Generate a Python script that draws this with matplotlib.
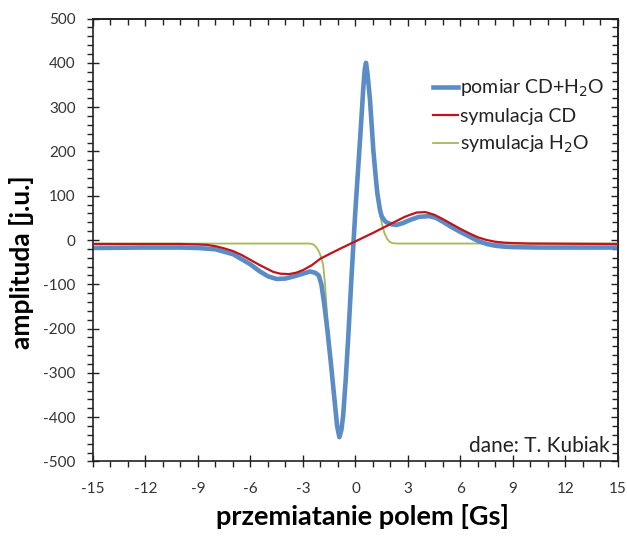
import matplotlib
matplotlib.use("Agg")
import matplotlib.pyplot as plt
from matplotlib.ticker import MultipleLocator, NullFormatter

plt.rcParams['font.family'] = ['Lato', 'DejaVu Sans']
plt.rcParams['axes.unicode_minus'] = False

# --- data ---
x_meas = [-15, -12, -10, -9, -8, -7, -6, -5.5, -5, -4.5, -4, -3.5, -3, -2.6, -2.3,
          -2.1, -1.95, -1.8, -1.6, -1.4, -1.2, -1.05, -0.92, -0.8, -0.7, -0.55,
          -0.4, -0.25, -0.12, 0.0, 0.15, 0.3, 0.45, 0.53, 0.6, 0.68, 0.83, 1.02,
          1.15, 1.25, 1.4, 1.5, 1.7, 1.87, 2.1, 2.35, 2.7, 3.1, 3.6, 4.2, 4.6,
          5.0, 5.5, 6.0, 6.5, 7.0, 7.5, 8.0, 8.5, 9, 10.5, 12, 15]
y_meas = [-18, -17, -17, -18, -21, -32, -55, -70, -82, -88, -87, -82, -76, -71, -74,
          -80, -100, -140, -205, -280, -360, -420, -445, -428, -395, -310,
          -210, -100, -10, 70, 160, 250, 345, 385, 400, 378, 316, 203,
          145, 105, 68, 53, 42, 38, 35, 34, 38, 45, 52, 54, 50,
          41, 29, 18, 8, -2, -9, -13, -15, -16, -17, -17, -17]

x_cd = [-15, -10, -9, -8.5, -8, -7.5, -7, -6.5, -6, -5.5, -5, -4.7, -4.3, -3.8,
        -3.4, -3, -2.5, -2, -1, 0, 1, 2, 2.8, 3.2, 3.5, 4, 4.5, 5, 5.5, 6, 6.5,
        7, 7.5, 8, 8.5, 9, 10, 15]
y_cd = [-9, -9, -10, -11, -14, -19, -25, -34, -45, -56, -66, -72, -76, -77,
        -74, -68, -57, -42, -22, -3, 16, 36, 52, 58, 62, 63, 57, 47, 36, 25, 15,
        6, 0, -4, -6, -7, -8, -9]

x_h2o = [-15, -2.6, -2.4, -2.25, -2.1, -2.0, -1.85, -1.74, -1.6, -1.4, -1.2, -1.05,
         -0.92, -0.8, -0.7, -0.55, -0.4, -0.25, -0.12, 0.0, 0.15, 0.3, 0.45, 0.6,
         0.7, 0.83, 1.02, 1.15, 1.25, 1.5, 1.65, 1.8, 1.95, 2.1, 2.4, 15]
y_h2o = [-8, -8, -10, -16, -25, -35, -55, -100, -180, -270, -350, -405,
         -432, -415, -385, -300, -205, -100, -10, 70, 155, 245, 335, 385,
         360, 300, 190, 130, 95, 38, 16, 3, -4, -7, -8, -8]

labels = ['pomiar CD+H$_2$O', 'symulacja CD', 'symulacja H$_2$O']
colors = ['#5B8CC6', '#C0141C', '#A5B85A']

fig = plt.figure(figsize=(6.27, 5.38), dpi=100)
ax = fig.add_axes([0.1483, 0.1422, 0.8373, 0.8234])

l1, = ax.plot(x_meas, y_meas, color=colors[0], lw=3.3, zorder=2, solid_joinstyle='round')
l2, = ax.plot(x_cd, y_cd, color=colors[1], lw=1.6, zorder=3)
l3, = ax.plot(x_h2o, y_h2o, color=colors[2], lw=1.3, zorder=1)

ax.set_xlim(-15, 15)
ax.set_ylim(-500, 500)
ax.xaxis.set_major_locator(MultipleLocator(3))
ax.xaxis.set_minor_locator(MultipleLocator(1))
ax.yaxis.set_major_locator(MultipleLocator(100))
ax.yaxis.set_minor_locator(MultipleLocator(20))

tc = '#222222'
ax.tick_params(which='both', color=tc, width=1)
ax.tick_params(which='major', direction='inout', length=9, labelsize=11,
               labelcolor='#333333')
ax.tick_params(which='minor', direction='out', length=4)
ax.tick_params(axis='x', which='major', pad=10)
ax.tick_params(axis='y', which='major', pad=8)

# mirrored ticks pointing inward on top and right
top = ax.secondary_xaxis('top')
top.xaxis.set_major_locator(MultipleLocator(3))
top.xaxis.set_minor_locator(MultipleLocator(1))
top.xaxis.set_major_formatter(NullFormatter())
top.tick_params(which='major', direction='in', length=5, color=tc, width=1)
top.tick_params(which='minor', direction='in', length=4, color=tc, width=1)
right = ax.secondary_yaxis('right')
right.yaxis.set_major_locator(MultipleLocator(100))
right.yaxis.set_minor_locator(MultipleLocator(20))
right.yaxis.set_major_formatter(NullFormatter())
right.tick_params(which='major', direction='in', length=5, color=tc, width=1)
right.tick_params(which='minor', direction='in', length=4, color=tc, width=1)

for s in ax.spines.values():
    s.set_color(tc)
    s.set_linewidth(1.2)
top.spines['top'].set_color(tc)
top.spines['top'].set_linewidth(1.2)
right.spines['right'].set_color(tc)
right.spines['right'].set_linewidth(1.2)

ax.set_xlabel('przemiatanie polem [Gs]', fontsize=19.5, fontweight='bold', labelpad=5)
ax.xaxis.set_label_coords(0.514, -0.095)
ax.set_ylabel('amplituda [j.u.]', fontsize=19, fontweight='bold', labelpad=4)
ax.yaxis.set_label_coords(-0.112, 0.45)

leg = ax.legend([l1, l2, l3], labels, loc='upper right', bbox_to_anchor=(1.0, 0.897),
                frameon=False, fontsize=14, handlelength=1.3, handletextpad=0.1,
                labelspacing=0.45, borderaxespad=0.3)
for t in leg.get_texts():
    t.set_color('#222222')

ax.text(0.985, 0.012, 'dane: T. Kubiak', transform=ax.transAxes, ha='right',
        va='bottom', fontsize=15, color='#222222')

fig.savefig('out.png', dpi=100)
